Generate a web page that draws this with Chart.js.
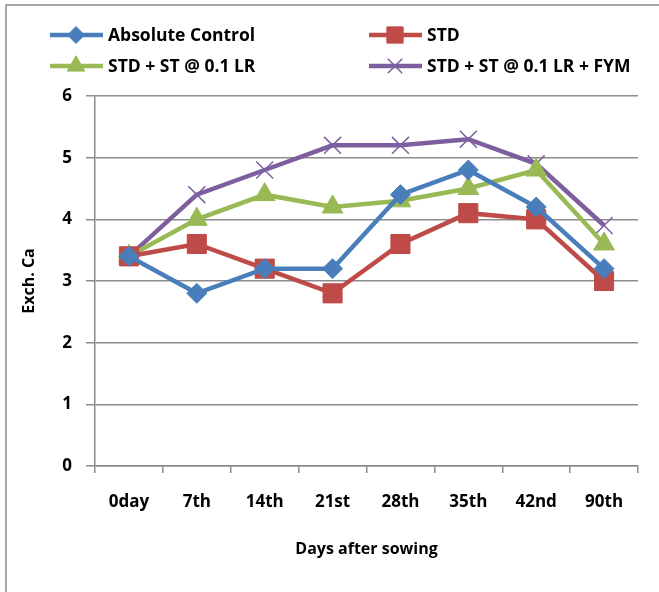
<!DOCTYPE html>
<html>
<head>
<meta charset="utf-8">
<script src="https://cdn.jsdelivr.net/npm/chart.js@4.4.1/dist/chart.umd.min.js"></script>
<style>
    html, body { margin: 0; padding: 0; background: #fff; }
    #wrap { width: 659px; height: 592px; position: relative; }
</style>
</head>
<body>
<div id="wrap"><canvas id="caChart" width="659" height="592"></canvas></div>
<script>
// Chart data
const days = ['0day', '7th', '14th', '21st', '28th', '35th', '42nd', '90th'];
const absoluteControl = [3.4, 2.8, 3.2, 3.2, 4.4, 4.8, 4.2, 3.2];
const std = [3.4, 3.6, 3.2, 2.8, 3.6, 4.1, 4.0, 3.0];
const stdSt = [3.4, 4.0, 4.4, 4.2, 4.3, 4.5, 4.8, 3.6];
const stdStFym = [3.4, 4.4, 4.8, 5.2, 5.2, 5.3, 4.9, 3.9];
const seriesNames = ['Absolute Control', 'STD', 'STD + ST @ 0.1 LR', 'STD + ST @ 0.1 LR + FYM'];
const yTicks = [0, 1, 2, 3, 4, 5, 6];

const FONT = '"Open Sans", "DejaVu Sans", sans-serif';
const GRID = '#8c8c8c';

function series(label, data, color, style, radius, bw) {
    return {
        label: label,
        data: data,
        borderColor: color,
        backgroundColor: color,
        borderWidth: 4.5,
        pointStyle: style,
        pointRadius: radius,
        pointHoverRadius: radius,
        pointBackgroundColor: color,
        pointBorderColor: color,
        pointBorderWidth: bw,
        tension: 0
    };
}

// Excel-style legend: line + marker, two columns
const legendCols = [50, 369];
const legendRows = [35, 66];

const excelLegend = {
    id: 'excelLegend',
    beforeDraw(chart) {
        const ctx = chart.ctx;
        ctx.save();
        ctx.strokeStyle = '#8a8a8a';
        ctx.lineWidth = 1.5;
        ctx.beginPath();
        ctx.moveTo(6, 592);
        ctx.lineTo(6, 5);
        ctx.lineTo(659, 5);
        ctx.stroke();
        ctx.restore();
    },
    afterDraw(chart) {
        const ctx = chart.ctx;
        chart.data.datasets.forEach((ds, i) => {
            const x = legendCols[i % 2];
            const y = legendRows[Math.floor(i / 2)];
            ctx.save();
            ctx.strokeStyle = ds.borderColor;
            ctx.lineWidth = ds.borderWidth;
            ctx.beginPath();
            ctx.moveTo(x, y);
            ctx.lineTo(x + 53, y);
            ctx.stroke();
            ctx.fillStyle = ds.pointBackgroundColor;
            ctx.strokeStyle = ds.pointBorderColor;
            ctx.lineWidth = ds.pointBorderWidth;
            Chart.helpers.drawPoint(ctx, {
                pointStyle: ds.pointStyle,
                radius: ds.pointRadius * 0.85,
                borderWidth: ds.pointBorderWidth
            }, x + 26, y);
            ctx.fillStyle = '#000';
            ctx.font = 'bold 17.5px ' + FONT;
            ctx.textBaseline = 'middle';
            ctx.fillText(ds.label, x + 58, y + 1);
            ctx.restore();
        });
    }
};

const ctx = document.getElementById('caChart').getContext('2d');
const caChart = new Chart(ctx, {
    type: 'line',
    data: {
        labels: days,
        datasets: [
            series(seriesNames[0], absoluteControl, '#4a7ebb', 'rectRot', 10, 1),
            series(seriesNames[1], std, '#be4b48', 'rect', 13.5, 1),
            series(seriesNames[2], stdSt, '#98b954', 'triangle', 12, 1),
            series(seriesNames[3], stdStFym, '#7d5fa0', 'crossRot', 12, 1.5)
        ]
    },
    options: {
        responsive: false,
        animation: false,
        layout: { padding: { left: 14, right: 21, top: 96, bottom: 26 } },
        plugins: {
            legend: { display: false },
            tooltip: { enabled: false }
        },
        scales: {
            x: {
                offset: true,
                afterFit: s => { s.height = 100; },
                grid: {
                    offset: true,
                    drawOnChartArea: false,
                    color: GRID,
                    lineWidth: 1.5,
                    tickLength: 7
                },
                border: { color: GRID, width: 1.5 },
                ticks: {
                    color: '#000',
                    padding: 19,
                    maxRotation: 0,
                    font: { family: FONT, size: 17, weight: 'bold' }
                },
                title: {
                    display: true,
                    text: 'Days after sowing',
                    color: '#000',
                    padding: { top: 0, bottom: 7 },
                    font: { family: FONT, size: 16, weight: 'bold' }
                }
            },
            y: {
                min: yTicks[0],
                max: yTicks[yTicks.length - 1],
                afterFit: s => { s.width = 81; },
                afterBuildTicks: s => { s.ticks = yTicks.map(v => ({ value: v })); },
                grid: {
                    color: GRID,
                    lineWidth: 1.5,
                    tickLength: 9
                },
                border: { color: GRID, width: 1.5 },
                ticks: {
                    color: '#000',
                    padding: 14,
                    font: { family: FONT, size: 17, weight: 'bold' }
                },
                title: {
                    display: true,
                    text: 'Exch. Ca',
                    color: '#000',
                    padding: { top: 6, bottom: 0 },
                    font: { family: FONT, size: 16, weight: 'bold' }
                }
            }
        }
    },
    plugins: [excelLegend]
});
</script>
</body>
</html>
